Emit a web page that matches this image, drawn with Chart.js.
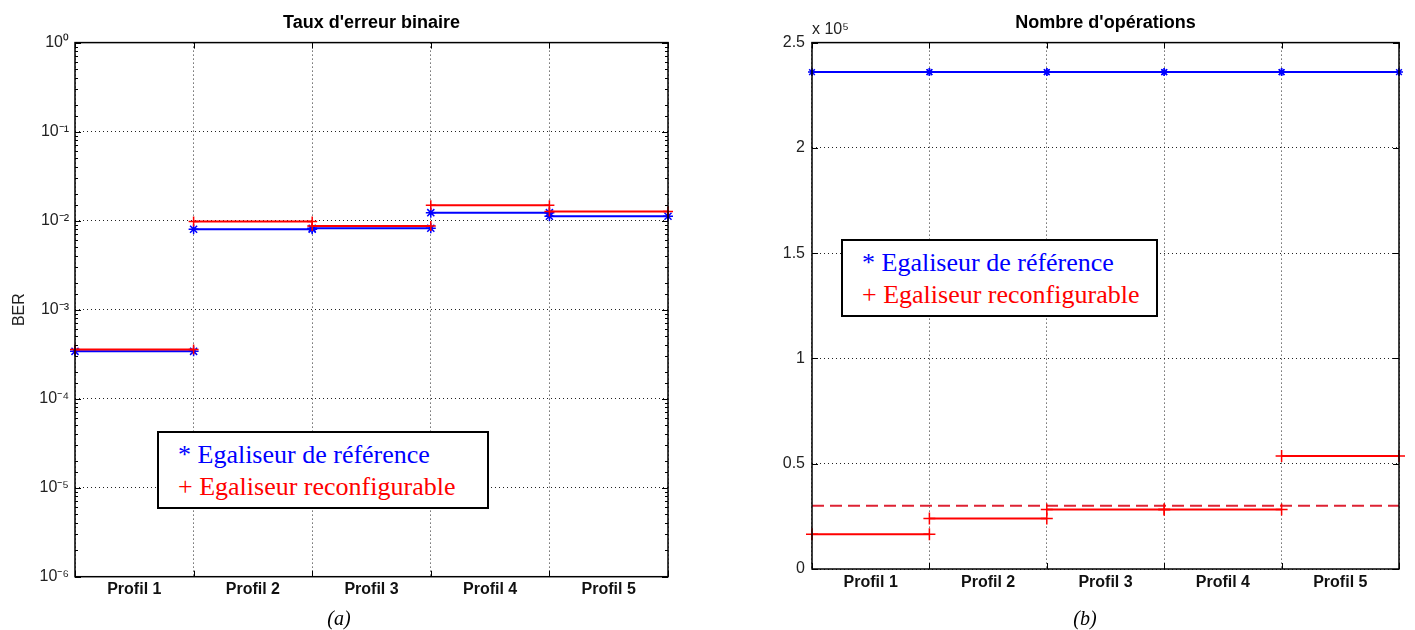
<!DOCTYPE html>
<html lang="fr">
<head>
<meta charset="utf-8">
<title>Taux d'erreur binaire / Nombre d'opérations</title>
<script src="https://cdn.jsdelivr.net/npm/chart.js@4.4.1/dist/chart.umd.min.js"></script>
<style>
  body {
    margin: 0;
    width: 1415px;
    height: 630px;
    position: relative;
    overflow: hidden;
    background: #fff;
  }
  canvas {
    position: absolute;
    top: 0;
  }
  #graph_ber { left: 0; }
  #graph_ops { left: 715px; }
  .legende {
    position: absolute;
    box-sizing: border-box;
    height: 78px;
    border: 2px solid #000;
    background: #fff;
    padding: 6px 0 0 19px;
    font-family: "Liberation Serif", "Times New Roman", serif;
    font-size: 26px;
    line-height: 32px;
    white-space: nowrap;
  }
  .ref { color: #0000ff; }
  .rec { color: #ff0000; }
  .sous-titre {
    position: absolute;
    top: 606px;
    width: 100px;
    text-align: center;
    font-family: "Liberation Serif", "Times New Roman", serif;
    font-style: italic;
    font-size: 20px;
    line-height: 24px;
  }
</style>
</head>
<body>
<canvas id="graph_ber" width="700" height="630"></canvas>
<canvas id="graph_ops" width="700" height="630"></canvas>

<div class="legende" style="left: 157px; top: 431px; width: 332px;">
  <div class="ref">* Egaliseur de référence</div>
  <div class="rec">+ Egaliseur reconfigurable</div>
</div>
<div class="legende" style="left: 841px; top: 239px; width: 317px;">
  <div class="ref">* Egaliseur de référence</div>
  <div class="rec">+ Egaliseur reconfigurable</div>
</div>

<div class="sous-titre" style="left: 289px;">(a)</div>
<div class="sous-titre" style="left: 1035px;">(b)</div>

<script>
const profils = ["Profil 1", "Profil 2", "Profil 3", "Profil 4", "Profil 5"];

// Taux d'erreur binaire
const berReference = [3.4e-4, 8.0e-3, 8.2e-3, 1.23e-2, 1.12e-2];
const berReconfig = [3.56e-4, 9.8e-3, 8.7e-3, 1.49e-2, 1.27e-2];
const berTicks = [1e-6, 1e-5, 1e-4, 1e-3, 1e-2, 1e-1, 1];

// Nombre d'opérations
const opsReference = [236000, 236000, 236000, 236000, 236000];
const opsReconfig = [16500, 24000, 28300, 28300, 53700];
const opsLimite = 30000;
const opsTicks = [0, 50000, 100000, 150000, 200000, 250000];

Chart.defaults.font.family = "'Liberation Sans', Arial, sans-serif";
Chart.defaults.color = "#222";

// un palier horizontal par profil, sans trait vertical entre les profils
function paliers(valeurs) {
  const pontos = [];
  valeurs.forEach((v, i) => {
    pontos.push({ x: i - 0.5, y: v }, { x: i + 0.5, y: v }, { x: i + 0.5, y: null });
  });
  return pontos;
}

const exposants = { "-": "⁻", 0: "⁰", 1: "¹", 2: "²", 3: "³", 4: "⁴", 5: "⁵", 6: "⁶", 7: "⁷", 8: "⁸", 9: "⁹" };

function estDecade(v) {
  const e = Math.log10(v);
  return Math.abs(e - Math.round(e)) < 1e-9;
}

function puissance(v) {
  const e = String(Math.round(Math.log10(v)));
  return "10" + e.split("").map((c) => exposants[c]).join("");
}

// cadre + petits traits intérieurs (style matlab)
const moldura = {
  id: "moldura",
  afterDraw(chart) {
    const { ctx, chartArea: a, scales } = chart;
    ctx.save();
    ctx.strokeStyle = "#000";
    ctx.lineWidth = 1;
    ctx.beginPath();
    scales.y.ticks.forEach((t) => {
      const py = Math.round(scales.y.getPixelForValue(t.value)) + 0.5;
      const l = t.major ? 6 : 3;
      ctx.moveTo(a.left, py);
      ctx.lineTo(a.left + l, py);
      ctx.moveTo(a.right, py);
      ctx.lineTo(a.right - l, py);
    });
    for (let i = 0; i <= profils.length; i++) {
      const px = Math.round(scales.x.getPixelForValue(i - 0.5)) + 0.5;
      ctx.moveTo(px, a.bottom);
      ctx.lineTo(px, a.bottom - 6);
      ctx.moveTo(px, a.top);
      ctx.lineTo(px, a.top + 6);
    }
    ctx.stroke();
    ctx.lineWidth = 1.5;
    ctx.strokeRect(a.left, a.top, a.right - a.left, a.bottom - a.top);
    ctx.restore();
  },
};

const fatorEscala = {
  id: "fatorEscala",
  afterDraw(chart) {
    const { ctx, chartArea } = chart;
    ctx.save();
    ctx.font = "16px 'Liberation Sans', Arial, sans-serif";
    ctx.fillStyle = "#222";
    ctx.textBaseline = "alphabetic";
    ctx.fillText("x 10⁵", chartArea.left, chartArea.top - 9);
    ctx.restore();
  },
};

const eixoProfils = {
  type: "linear",
  min: -0.5,
  max: profils.length - 0.5,
  afterBuildTicks: (scale) => {
    scale.ticks = profils.map((p, i) => ({ value: i }));
  },
  ticks: {
    autoSkip: false,
    maxRotation: 0,
    padding: 3,
    color: "#111",
    font: { size: 16, weight: "bold" },
    callback: (v, i) => profils[i],
  },
  grid: {
    offset: true,
    drawTicks: false,
    color: "#222",
    lineWidth: 1,
  },
  border: { display: false, dash: [1, 3] },
};

// (a) Taux d'erreur binaire

const graficoBer = document.getElementById("graph_ber");

new Chart(graficoBer, {
  type: "line",
  data: {
    datasets: [
      {
        label: "Egaliseur de référence",
        data: paliers(berReference),
        borderColor: "#0000ff",
        borderWidth: 2,
        pointStyle: "star",
        pointRadius: 5,
        pointBorderWidth: 1.5,
        pointBorderColor: "#0000ff",
        spanGaps: false,
        clip: false,
        order: 2,
      },
      {
        label: "Egaliseur reconfigurable",
        data: paliers(berReconfig),
        borderColor: "#ff0000",
        borderWidth: 2,
        pointStyle: "cross",
        pointRadius: 5,
        pointBorderWidth: 1.5,
        pointBorderColor: "#ff0000",
        spanGaps: false,
        clip: false,
        order: 1,
      },
    ],
  },
  options: {
    responsive: false,
    animation: false,
    layout: { padding: { left: 0, right: 32, top: 0, bottom: 0 } },
    scales: {
      x: Object.assign({}, eixoProfils, {
        afterFit: (scale) => { scale.height = 53.3; },
      }),
      y: {
        type: "logarithmic",
        min: berTicks[0],
        max: berTicks[berTicks.length - 1],
        afterFit: (scale) => { scale.width = 75; },
        ticks: {
          autoSkip: false,
          padding: 6,
          font: { size: 16 },
          callback: (v) => (estDecade(v) ? puissance(v) : ""),
        },
        grid: {
          drawTicks: false,
          lineWidth: 1,
          color: (ctx) => (ctx.tick && estDecade(ctx.tick.value) ? "#222" : "transparent"),
        },
        border: { display: false, dash: [1, 3] },
        title: {
          display: true,
          text: "BER",
          color: "#222",
          font: { size: 16 },
          padding: { top: 10, bottom: 0 },
        },
      },
    },
    plugins: {
      legend: { display: false },
      tooltip: { enabled: false },
      title: {
        display: true,
        text: "Taux d'erreur binaire",
        color: "#000",
        fullSize: false,
        font: { size: 18, weight: "bold" },
        padding: { top: 12, bottom: 9 },
      },
    },
  },
  plugins: [moldura],
});

// (b) Nombre d'opérations

const graficoOps = document.getElementById("graph_ops");

new Chart(graficoOps, {
  type: "line",
  data: {
    datasets: [
      {
        label: "Egaliseur de référence",
        data: paliers(opsReference),
        borderColor: "#0000ff",
        borderWidth: 2,
        pointStyle: "star",
        pointRadius: 4,
        pointBorderWidth: 1.5,
        pointBorderColor: "#0000ff",
        spanGaps: false,
        clip: false,
        order: 2,
      },
      {
        label: "Egaliseur reconfigurable",
        data: paliers(opsReconfig),
        borderColor: "#ff0000",
        borderWidth: 2,
        pointStyle: "cross",
        pointRadius: 6,
        pointBorderWidth: 1.5,
        pointBorderColor: "#ff0000",
        spanGaps: false,
        clip: false,
        order: 1,
      },
      {
        label: "Moyenne",
        data: [
          { x: -0.5, y: opsLimite },
          { x: profils.length - 0.5, y: opsLimite },
        ],
        borderColor: "#dd2233",
        borderWidth: 2,
        borderDash: [12, 6],
        pointRadius: 0,
        order: 3,
      },
    ],
  },
  options: {
    responsive: false,
    animation: false,
    layout: { padding: { left: 0, right: 16, top: 0, bottom: 0 } },
    scales: {
      x: Object.assign({}, eixoProfils, {
        ticks: Object.assign({}, eixoProfils.ticks, { padding: 4 }),
        afterFit: (scale) => { scale.height = 61; },
      }),
      y: {
        type: "linear",
        min: opsTicks[0],
        max: opsTicks[opsTicks.length - 1],
        afterFit: (scale) => { scale.width = 97; },
        afterBuildTicks: (scale) => {
          scale.ticks = opsTicks.map((v) => ({ value: v, major: true }));
        },
        ticks: {
          autoSkip: false,
          padding: 7,
          font: { size: 16 },
          callback: (v) => String(v / 100000),
        },
        grid: {
          drawTicks: false,
          lineWidth: 1,
          color: "#222",
        },
        border: { display: false, dash: [1, 3] },
      },
    },
    plugins: {
      legend: { display: false },
      tooltip: { enabled: false },
      title: {
        display: true,
        text: "Nombre d'opérations",
        color: "#000",
        fullSize: false,
        font: { size: 18, weight: "bold" },
        padding: { top: 12, bottom: 9 },
      },
    },
  },
  plugins: [moldura, fatorEscala],
});
</script>
</body>
</html>
